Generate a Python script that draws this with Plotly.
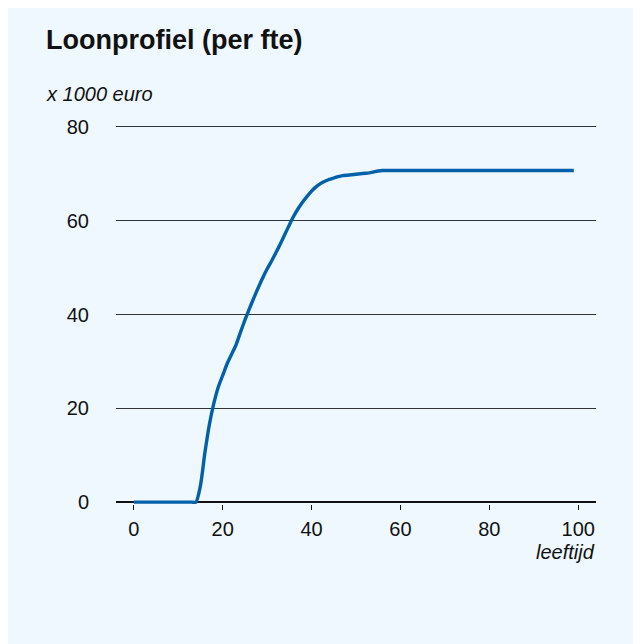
import plotly.graph_objects as go

ages = list(range(0, 100))
wages = ([0.0] * 15 +
         [3.5, 10.5, 16.5, 21.0, 24.5, 27.0, 29.5, 31.5, 33.5, 36.2,
          38.8, 41.2, 43.5, 45.7, 47.8, 49.7, 51.4, 53.2, 55.1, 57.1,
          59.1, 61.0, 62.6, 64.0, 65.2, 66.3, 67.2, 67.9, 68.4, 68.8,
          69.1, 69.4, 69.6, 69.7, 69.8, 69.9, 70.0, 70.1, 70.2, 70.4,
          70.6, 70.7] + [70.7] * 43)

x_ticks = [0, 20, 40, 60, 80, 100]
y_ticks = [0, 20, 40, 60, 80]

BG = "#eef8fe"
FONT = "Liberation Sans, Arial, sans-serif"

fig = go.Figure()
fig.add_trace(go.Scatter(x=ages, y=wages, mode="lines",
                         line=dict(color="#0061aa", width=3.4, shape="spline", smoothing=0.6),
                         hoverinfo="skip", showlegend=False))

W, H = 641, 644
L, R, T, B = 107.5, 52.5, 117.4, 148.1
pw, ph = W - L - R, H - T - B

def px(x):
    return (x - L) / pw

def py(y):
    return (H - B - y) / ph

fig.update_layout(
    width=W, height=H,
    margin=dict(l=L, r=R, t=T, b=B, pad=0),
    paper_bgcolor=BG, plot_bgcolor=BG,
    font=dict(family=FONT, size=20, color="#111"),
    showlegend=False,
    xaxis=dict(range=[-4, 104], tickvals=x_ticks, ticks="outside", ticklen=5,
               tickcolor="#111", tickwidth=1, showgrid=False, zeroline=False,
               showline=False, ticklabelstandoff=2, fixedrange=True),
    yaxis=dict(range=[-0.4, 80.4], tickvals=y_ticks, showgrid=True,
               gridcolor="#333", gridwidth=1, zeroline=True, zerolinecolor="#111",
               zerolinewidth=2, ticks="", showline=False,
               ticklabelstandoff=26, fixedrange=True),
    annotations=[
        dict(text="<b>Loonprofiel (per fte)</b>", xref="paper", yref="paper",
             x=px(35), y=py(33), xanchor="left", yanchor="middle",
             showarrow=False, font=dict(size=27, color="#111", family=FONT)),
        dict(text="<i>x 1000 euro</i>", xref="paper", yref="paper",
             x=px(35), y=py(86.3), xanchor="left", yanchor="middle",
             showarrow=False, font=dict(size=20, color="#111", family=FONT)),
        dict(text="<i>leeftijd</i>", xref="paper", yref="paper",
             x=px(590), y=py(543.5), xanchor="right", yanchor="middle",
             showarrow=False, font=dict(size=20, color="#111", family=FONT)),
    ],
)

fig.write_html("out.html")
